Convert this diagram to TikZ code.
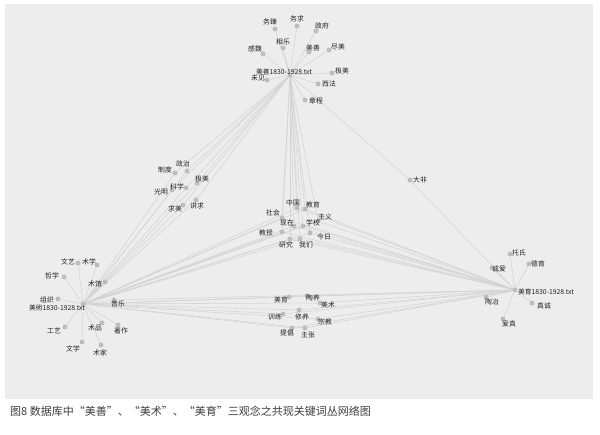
\documentclass[tikz,border=0pt]{standalone}
\usepackage{fontspec}
\setmainfont{Noto Sans CJK SC}
\definecolor{panel}{HTML}{EDEDED}
\definecolor{edgec}{HTML}{D4D4D4}
\definecolor{dotc}{HTML}{BDBDBD}
\definecolor{txt}{HTML}{222222}
\definecolor{captxt}{HTML}{3C3C3C}
\pgfdeclarelayer{back}
\pgfdeclarelayer{mid}
\pgfsetlayers{back,mid,main}
\tikzset{
  dot/.style={circle,fill=dotc,inner sep=0pt,minimum size=5pt},
  hub/.style={circle,fill=dotc,inner sep=0pt,minimum size=5pt},
  lab/.style={inner sep=0.5pt,text=txt,font=\fontsize{6.8}{7}\selectfont},
  edge/.style={draw=edgec,line width=0.55pt},
}
\begin{document}
\begin{tikzpicture}[x=1pt,y=-1pt]
\useasboundingbox (0,0) rectangle (600,435);
\begin{pgfonlayer}{back}
\fill[panel] (5,4) rectangle (593,399);
\end{pgfonlayer}
% hubs
\node[hub] (hT) at (290,75) {};
\node[lab] (hT-l) at (284,72) {美善1830-1928.txt};
\node[hub] (hL) at (83,304) {};
\node[lab] (hL-l) at (57,308) {美術1830-1928.txt};
\node[hub] (hR) at (515,290) {};
\node[lab] (hR-l) at (546,292) {美育1830-1928.txt};
% top cluster
\node[dot] (t1) at (275,29) {}; \node[lab] (t1-l) at (270,22) {务臻};
\node[dot] (t2) at (297,26) {}; \node[lab] (t2-l) at (297,19) {务求};
\node[dot] (t3) at (316,31) {}; \node[lab] (t3-l) at (322,26) {政府};
\node[dot] (t4) at (283,48) {}; \node[lab] (t4-l) at (283,42) {相乐};
\node[dot] (t5) at (263,54) {}; \node[lab] (t5-l) at (255,49) {感魏};
\node[dot] (t6) at (309,52) {}; \node[lab] (t6-l) at (313,48) {美善};
\node[dot] (t7) at (329,50) {}; \node[lab] (t7-l) at (338,47) {尽美};
\node[dot] (t8) at (332,73) {}; \node[lab] (t8-l) at (342,71) {极美};
\node[dot] (t9) at (267,80) {}; \node[lab] (t9-l) at (258,78) {未见};
\node[dot] (t10) at (318,84) {}; \node[lab] (t10-l) at (329,84) {西法};
\node[dot] (t11) at (305,100) {}; \node[lab] (t11-l) at (316,101) {章程};
% middle-left cluster
\node[dot] (m1) at (175,173) {}; \node[lab] (m1-l) at (165,170) {制度};
\node[dot] (m2) at (187,171) {}; \node[lab] (m2-l) at (183,164) {政治};
\node[dot] (m3) at (197,183) {}; \node[lab] (m3-l) at (202,179) {极美};
\node[dot] (m4) at (172,190) {}; \node[lab] (m4-l) at (161,192) {光明};
\node[dot] (m5) at (186,188) {}; \node[lab] (m5-l) at (177,187) {科学};
\node[dot] (m6) at (183,205) {}; \node[lab] (m6-l) at (175,209) {求美};
\node[dot] (m7) at (196,200) {}; \node[lab] (m7-l) at (197,206) {讲求};
% center cluster
\node[dot] (c1) at (297,208) {}; \node[lab] (c1-l) at (293,203) {中国};
\node[dot] (c2) at (305,209) {}; \node[lab] (c2-l) at (313,205) {教育};
\node[dot] (c3) at (282,218) {}; \node[lab] (c3-l) at (273,213) {社会};
\node[dot] (c4) at (318,221) {}; \node[lab] (c4-l) at (325,217) {主义};
\node[dot] (c5) at (294,226) {}; \node[lab] (c5-l) at (287,223) {现在};
\node[dot] (c6) at (303,226) {}; \node[lab] (c6-l) at (313,223) {学校};
\node[dot] (c7) at (282,232) {}; \node[lab] (c7-l) at (266,233) {教授};
\node[dot] (c8) at (310,233) {}; \node[lab] (c8-l) at (324,237) {今日};
\node[dot] (c9) at (290,239) {}; \node[lab] (c9-l) at (286,245) {研究};
\node[dot] (c10) at (300,239) {}; \node[lab] (c10-l) at (306,245) {我们};
% left cluster
\node[dot] (l1) at (78,263) {}; \node[lab] (l1-l) at (68,262) {文艺};
\node[dot] (l2) at (97,265) {}; \node[lab] (l2-l) at (89,262) {术学};
\node[dot] (l3) at (64,277) {}; \node[lab] (l3-l) at (52,276) {哲学};
\node[dot] (l4) at (105,282) {}; \node[lab] (l4-l) at (95,284) {术馆};
\node[dot] (l5) at (58,299) {}; \node[lab] (l5-l) at (47,300) {组织};
\node[dot] (l6) at (114,300) {}; \node[lab] (l6-l) at (118,304) {音乐};
\node[dot] (l7) at (65,327) {}; \node[lab] (l7-l) at (54,331) {工艺};
\node[dot] (l8) at (102,323) {}; \node[lab] (l8-l) at (95,328) {术品};
\node[dot] (l9) at (118,325) {}; \node[lab] (l9-l) at (121,331) {著作};
\node[dot] (l10) at (82,342) {}; \node[lab] (l10-l) at (73,349) {文学};
\node[dot] (l11) at (101,345) {}; \node[lab] (l11-l) at (100,353) {术家};
% bottom cluster
\node[dot] (b1) at (289,297) {}; \node[lab] (b1-l) at (281,300) {美育};
\node[dot] (b2) at (307,296) {}; \node[lab] (b2-l) at (313,298) {陶养};
\node[dot] (b3) at (320,303) {}; \node[lab] (b3-l) at (328,305) {美术};
\node[dot] (b4) at (283,314) {}; \node[lab] (b4-l) at (275,317) {训练};
\node[dot] (b5) at (299,310) {}; \node[lab] (b5-l) at (302,317) {修养};
\node[dot] (b6) at (318,319) {}; \node[lab] (b6-l) at (325,322) {宗教};
\node[dot] (b7) at (292,328) {}; \node[lab] (b7-l) at (287,333) {提倡};
\node[dot] (b8) at (305,328) {}; \node[lab] (b8-l) at (308,335) {主张};
% right cluster
\node[dot] (r1) at (510,254) {}; \node[lab] (r1-l) at (519,253) {托氏};
\node[dot] (r2) at (529,264) {}; \node[lab] (r2-l) at (538,264) {德育};
\node[dot] (r3) at (492,268) {}; \node[lab] (r3-l) at (499,269) {诚爱};
\node[dot] (r4) at (486,297) {}; \node[lab] (r4-l) at (492,302) {陶冶};
\node[dot] (r5) at (532,303) {}; \node[lab] (r5-l) at (544,306) {真诚};
\node[dot] (r6) at (503,319) {}; \node[lab] (r6-l) at (509,324) {爱真};
% lone node
\node[dot] (d1) at (410,180) {}; \node[lab] (d1-l) at (420,180) {大非};
% edges
\begin{pgfonlayer}{mid}
\foreach \n in {t1,t2,t3,t4,t5,t6,t7,t8,t9,t10,t11,m1,m2,m3,m4,m5,m6,m7,c1,c2,c3,c4,c5,c6,c7,c8,c9,c10,d1}
  \draw[edge] (hT) -- (\n);
\foreach \n in {l1,l2,l3,l4,l5,l6,l7,l8,l9,l10,l11,m1,m2,m3,m4,m5,m6,m7,c1,c2,c3,c4,c5,c6,c7,c8,c9,c10,b1,b2,b3,b4,b5,b6,b7,b8}
  \draw[edge] (hL) -- (\n);
\foreach \n in {r1,r2,r3,r4,r5,r6,c1,c2,c3,c4,c5,c6,c7,c8,c9,c10,b1,b2,b3,b4,b5,b6,b7,b8,d1,l6}
  \draw[edge] (hR) -- (\n);
\end{pgfonlayer}
% caption
\node[anchor=base west,inner sep=0pt,text=captxt,font=\fontsize{11}{12}\selectfont] (cap) at (10,416) {图8 数据库中“美善”、“美术”、“美育”三观念之共现关键词丛网络图};
\end{tikzpicture}
\end{document}
